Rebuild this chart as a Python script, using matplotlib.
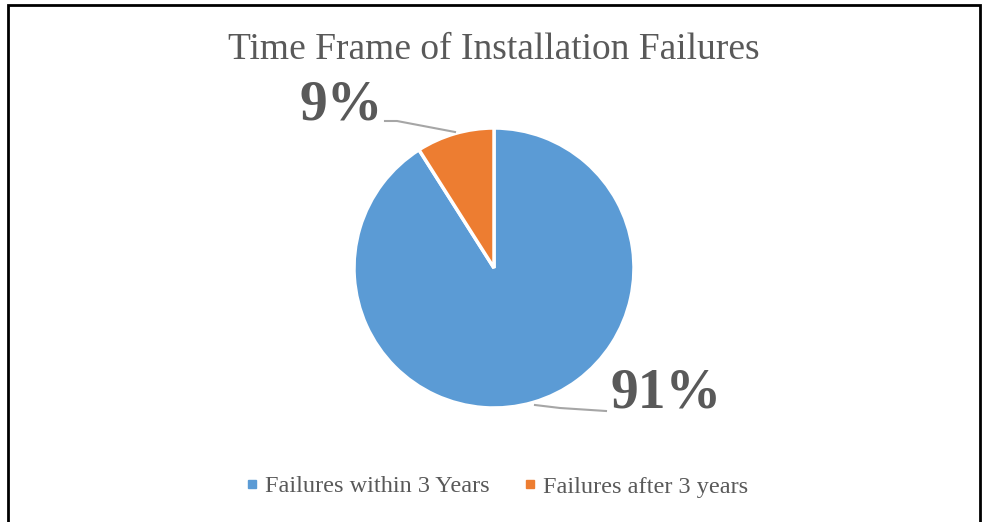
import matplotlib
matplotlib.use("Agg")
import matplotlib.pyplot as plt
from matplotlib.patches import Rectangle

title = "Time Frame of Installation Failures"
categories = ["Failures within 3 Years", "Failures after 3 years"]
values = [91, 9]
labels = ["91%", "9%"]
colors = ["#5B9BD5", "#ED7D31"]

W, H = 982, 522
fig = plt.figure(figsize=(W / 100, H / 100), dpi=100)
fig.patch.set_facecolor("white")
ax = fig.add_axes([0, 0, 1, 1])

serif = ["Liberation Serif", "DejaVu Serif"]
gray = "#595959"

cx, cy, r = 494, H - 268, 140
wedges, _ = ax.pie(values, colors=colors, startangle=90, counterclock=False,
                   radius=r, center=(cx, cy),
                   wedgeprops=dict(edgecolor="white", linewidth=2.5))
ax.set_xlim(0, W)
ax.set_ylim(0, H)
ax.set_aspect("auto")
ax.axis("off")

# data labels with leader lines
ax.text(666, H - 394, labels[0], ha="center", va="center", fontsize=40,
        fontweight="bold", color=gray, family=serif)
ax.plot([535, 560, 606], [H - 405, H - 408, H - 411], color="#A6A6A6", lw=1.5)
ax.text(341, H - 105, labels[1], ha="center", va="center", fontsize=40,
        fontweight="bold", color=gray, family=serif)
ax.plot([385, 397, 455], [H - 121, H - 121, H - 132], color="#A6A6A6", lw=1.5)

fig.text(494 / W, 1 - 50 / H, title, ha="center", va="center", fontsize=27,
         color=gray, family=serif)

handles = [Rectangle((0, 0), 1, 1, color=c) for c in colors]
leg = fig.legend(handles, categories, loc="center", bbox_to_anchor=(498 / W, 1 - 487 / H),
                 ncol=2, frameon=False, handlelength=0.35, handleheight=0.14,
                 handletextpad=0.35, columnspacing=1.5,
                 prop=dict(family=serif, size=17.5))
for t in leg.get_texts():
    t.set_color(gray)

fig.patches.append(Rectangle((8 / W, -0.05), (980 - 8) / W, 1.05 - 5 / H,
                             transform=fig.transFigure, fill=False,
                             edgecolor="black", linewidth=2))

fig.savefig("out.png", dpi=100)
